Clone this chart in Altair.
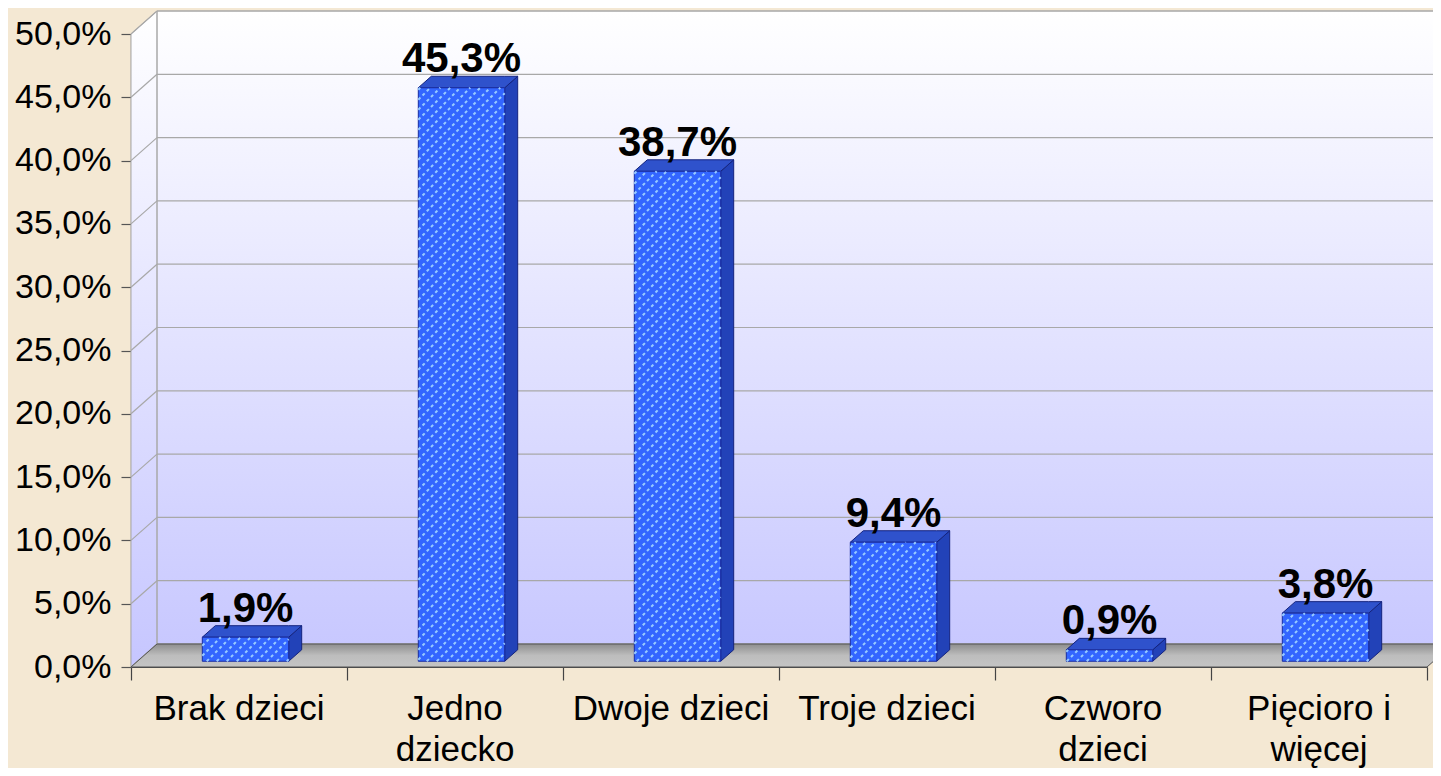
import altair as alt
import pandas as pd
import json

# ---------------- data ----------------
categories = ["Brak dzieci", "Jedno dziecko", "Dwoje dzieci", "Troje dzieci", "Czworo dzieci", "Pięcioro i więcej"]
category_lines = [["Brak dzieci"], ["Jedno", "dziecko"], ["Dwoje dzieci"], ["Troje dzieci"], ["Czworo", "dzieci"], ["Pięcioro i", "więcej"]]
values = [1.9, 45.3, 38.7, 9.4, 0.9, 3.8]
value_labels = ["1,9%", "45,3%", "38,7%", "9,4%", "0,9%", "3,8%"]
y_tick_values = [0, 5, 10, 15, 20, 25, 30, 35, 40, 45, 50]
y_tick_labels = ["0,0%", "5,0%", "10,0%", "15,0%", "20,0%", "25,0%", "30,0%", "35,0%", "40,0%", "45,0%", "50,0%"]

# ---------------- geometry (style) ----------------
W, H = 1296, 633
N = len(categories)
YMAX = 50
SX = W / N          # px per x unit
SY = H / YMAX       # px per y unit
DX = 26 / SX        # 3D depth (x) in data units
DY = 23 / SY        # 3D depth (y) in data units
HALF = 0.2          # half bar width in category units
F0, F1 = 0.25, 0.75  # bar depth position within the floor

FONT = "Liberation Sans"

xs = alt.Scale(domain=[0, N], nice=False, zero=False)
ys = alt.Scale(domain=[0, YMAX], nice=False, zero=False)

x_axis = alt.Axis(values=list(range(N + 1)), labels=False, title=None,
                  tickSize=13, tickColor="#444444", domainColor="#444444",
                  grid=False, domainWidth=1.2, tickWidth=1.2)
y_axis = alt.Axis(values=y_tick_values, title=None, grid=False,
                  labelExpr=json.dumps(y_tick_labels) + "[round(datum.value/5)]",
                  labelFontSize=34, labelFont=FONT, labelColor="#000000",
                  labelPadding=10, tickSize=10, tickColor="#555555",
                  domainColor="#555555", domainWidth=1.2, tickWidth=1.2)


def X(f):
    return alt.X(f, scale=xs, axis=x_axis)


def Y(f):
    return alt.Y(f, scale=ys, axis=y_axis)


# walls
walls = pd.DataFrame({"x": [0, DX, N + DX], "y": [0, DY, DY], "y2": [YMAX, YMAX + DY, YMAX + DY]})
wall_layer = alt.Chart(walls).mark_area(
    color=alt.Gradient(gradient="linear", x1=0, x2=0, y1=0, y2=1,
                       stops=[alt.GradientStop(color="#FFFFFF", offset=0),
                              alt.GradientStop(color="#C6C6FF", offset=1)]),
    stroke="#A8A8A8", strokeWidth=1
).encode(x=X("x:Q"), y=Y("y:Q"), y2="y2:Q")

# back gridlines and connectors
grid = pd.DataFrame({"t": y_tick_values})
grid["yb"] = grid["t"] + DY
grid["x0"] = 0.0
grid["xb"] = DX
grid["xe"] = N + DX
back_lines = alt.Chart(grid).mark_rule(color="#A8A8A8", strokeWidth=1.2).encode(
    x=X("xb:Q"), x2="xe:Q", y=Y("yb:Q"))
connectors = alt.Chart(grid).mark_rule(color="#A8A8A8", strokeWidth=1.2).encode(
    x=X("x0:Q"), x2="xb:Q", y=Y("t:Q"), y2="yb:Q")
edge = pd.DataFrame({"x": [DX], "y": [DY], "y2": [YMAX + DY]})
back_edge = alt.Chart(edge).mark_rule(color="#A8A8A8", strokeWidth=1.5).encode(
    x=X("x:Q"), y=Y("y:Q"), y2="y2:Q")

# floor
floor = pd.DataFrame({"x": [0, DX, N, N + DX], "y": [0, 0, 0, DY], "y2": [0, DY, DY, DY]})
floor_layer = alt.Chart(floor).mark_area(
    color=alt.Gradient(gradient="linear", x1=0, x2=0, y1=0, y2=1,
                       stops=[alt.GradientStop(color="#8E8E8E", offset=0),
                              alt.GradientStop(color="#BDBDBD", offset=0.5),
                              alt.GradientStop(color="#C4C4C4", offset=1)]),
    stroke="#555555", strokeWidth=1
).encode(x=X("x:Q"), y=Y("y:Q"), y2="y2:Q")

# bars
front_rows, top_rows, side_rows, stripe_rows, text_rows = [], [], [], [], []
for i, (cat, v, lab) in enumerate(zip(categories, values, value_labels)):
    c = i + 0.5
    xl, xr = c - HALF + F0 * DX, c + HALF + F0 * DX
    yb, yt = F0 * DY, v + F0 * DY
    front_rows.append({"bar": cat, "x": xl, "x2": xr, "y": yb, "y2": yt})
    # top face (parallelogram)
    for px, py, py2 in [(xl, yt, yt), (c - HALF + F1 * DX, yt, v + F1 * DY),
                        (xr, yt, v + F1 * DY), (c + HALF + F1 * DX, v + F1 * DY, v + F1 * DY)]:
        top_rows.append({"bar": cat, "x": px, "y": py, "y2": py2})
    # side face
    side_rows.append({"bar": cat, "x": xr, "y": yb, "y2": yt})
    side_rows.append({"bar": cat, "x": c + HALF + F1 * DX, "y": F1 * DY, "y2": v + F1 * DY})
    # stripe texture on the front face (pixel space, 45 degrees)
    XL, XR, YB, YT = xl * SX, xr * SX, yb * SY, yt * SY
    step = 10.0
    k = int((XL - YT) // step)
    while k * step < XR - YB:
        cc = k * step
        lo = max(YB, XL - cc)
        hi = min(YT, XR - cc)
        if hi - lo > 0.5:
            stripe_rows.append({"x": (lo + cc) / SX, "y": lo / SY, "x2": (hi + cc) / SX, "y2": hi / SY})
        k += 1
    text_rows.append({"x": c + F0 * DX, "y": v + F1 * DY, "label": lab})

side_layer = alt.Chart(pd.DataFrame(side_rows)).mark_area(
    color="#2242B8", stroke="#14237E", strokeWidth=1, opacity=1
).encode(x=X("x:Q"), y=Y("y:Q"), y2="y2:Q", detail="bar:N")
top_layer = alt.Chart(pd.DataFrame(top_rows)).mark_area(
    color="#2F52CC", stroke="#14237E", strokeWidth=1, opacity=1
).encode(x=X("x:Q"), y=Y("y:Q"), y2="y2:Q", detail="bar:N")
front_layer = alt.Chart(pd.DataFrame(front_rows)).mark_rect(
    color="#3366FF", stroke="#1A2DA0", strokeWidth=1
).encode(x=X("x:Q"), x2="x2:Q", y=Y("y:Q"), y2="y2:Q")
stripe_layer = alt.Chart(pd.DataFrame(stripe_rows)).mark_rule(
    color="#99CCFF", strokeWidth=2, strokeDash=[3, 3], opacity=1
).encode(x=X("x:Q"), x2="x2:Q", y=Y("y:Q"), y2="y2:Q")

value_text = alt.Chart(pd.DataFrame(text_rows)).mark_text(
    font=FONT, fontSize=42, fontWeight="bold", color="#000000", baseline="alphabetic",
    align="center", dy=-4
).encode(x=X("x:Q"), y=Y("y:Q"), text="label:N")

cat_df = pd.DataFrame({"x": [i + 0.5 for i in range(N)], "lines": category_lines})
cat_text = alt.Chart(cat_df).mark_text(
    font=FONT, fontSize=35, color="#000000", baseline="alphabetic", align="center", lineHeight=41
).encode(x=X("x:Q"), y=alt.value(H + 53), text="lines:N")

chart = alt.layer(
    wall_layer, back_lines, connectors, back_edge, floor_layer,
    side_layer, top_layer, front_layer, stripe_layer, value_text, cat_text
).properties(
    width=W, height=H,
    autosize=alt.AutoSizeParams(type="none"),
    padding={"left": 123, "top": 26, "right": 6, "bottom": 101},
    background="#F4E8D3",
).configure_view(stroke=None)

chart.save("out.html", embed_options={"renderer": "svg", "actions": False})
